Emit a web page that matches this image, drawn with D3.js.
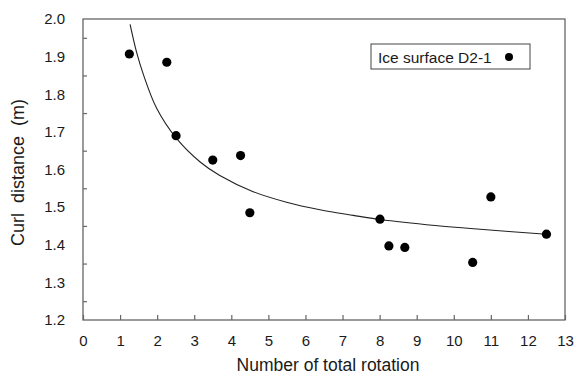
<!DOCTYPE html>
<html>
<head>
<meta charset="utf-8">
<script src="https://cdn.jsdelivr.net/npm/d3@7"></script>
<style>
  html, body { margin: 0; padding: 0; background: #fff; }
  svg { display: block; }
  text { font-family: "Liberation Sans", Arial, sans-serif; fill: #1a1a1a; }
</style>
</head>
<body>
<svg id="chart" width="575" height="376"></svg>
<script>
// Data
const rotations = [1.25, 2.26, 2.51, 3.50, 4.25, 4.50, 8.01, 8.25, 8.68, 10.51, 11.0, 12.5];
const curlDistance = [1.907, 1.885, 1.690, 1.625, 1.637, 1.485, 1.468, 1.397, 1.393, 1.353, 1.527, 1.428];

// Fitted trend curve
const trendX = [1.27, 1.45, 1.63, 1.99, 2.51, 3.16, 3.69, 4.59, 5.49, 6.39, 7.29, 8.01, 9.5, 10.71, 12.5];
const trendY = [1.986, 1.910, 1.852, 1.762, 1.684, 1.620, 1.584, 1.541, 1.513, 1.493, 1.478, 1.467, 1.451, 1.441, 1.428];

const xTicks = [0,1,2,3,4,5,6,7,8,9,10,11,12,13];
const yTickLabels = [1.2,1.3,1.4,1.5,1.6,1.7,1.8,1.9,2.0];
const yTickMarks = [1.25,1.35,1.45,1.55,1.65,1.75,1.85,1.95];

const seriesName = "Ice surface D2-1";
const xTitle = "Number of total rotation";
const yTitle = "Curl\u00a0\u00a0distance\u00a0\u00a0(m)";

const svg = d3.select("#chart");
const L = 83, T = 19, R = 565, B = 320;
const x = d3.scaleLinear().domain([0, 13]).range([L, R]);
const y = d3.scaleLinear().domain([1.2, 2.0]).range([B, T]);
const axisColor = "#666";
const fontFam = "'Liberation Sans', Arial, sans-serif";

// frame
svg.append("rect").attr("x", L).attr("y", T).attr("width", R - L).attr("height", B - T)
  .attr("fill", "none").attr("stroke", axisColor).attr("stroke-width", 1.3);

// x axis (ticks inward)
const xAxis = svg.append("g").attr("transform", `translate(0,${B})`)
  .call(d3.axisBottom(x).tickValues(xTicks).tickSize(-5).tickPadding(15).tickFormat(d3.format("d")));
xAxis.select(".domain").remove();
xAxis.selectAll("line").attr("stroke", axisColor).attr("stroke-width", 1.2);
xAxis.selectAll("text").attr("font-size", 15).attr("fill", "#1a1a1a").style("font-family", fontFam);

// y axis labels
const yAxis = svg.append("g").attr("transform", `translate(${L},0)`)
  .call(d3.axisLeft(y).tickValues(yTickLabels).tickSize(0).tickPadding(18).tickFormat(d3.format(".1f")));
yAxis.select(".domain").remove();
yAxis.selectAll("text").attr("font-size", 15).attr("fill", "#1a1a1a").style("font-family", fontFam);

// y tick marks (inward, between labels)
const yMarks = svg.append("g").attr("transform", `translate(${L},0)`)
  .call(d3.axisRight(y).tickValues(yTickMarks).tickSize(4).tickFormat(""));
yMarks.select(".domain").remove();
yMarks.selectAll("line").attr("stroke", axisColor).attr("stroke-width", 1.2);

// trend curve
const trend = trendX.map((v, i) => [v, trendY[i]]);
svg.append("path").datum(trend)
  .attr("fill", "none").attr("stroke", "#222").attr("stroke-width", 1.1)
  .attr("d", d3.line().x(d => x(d[0])).y(d => y(d[1])).curve(d3.curveCatmullRom.alpha(0.5)));

// points
svg.append("g").selectAll("circle").data(rotations.map((v, i) => [v, curlDistance[i]]))
  .join("circle").attr("cx", d => x(d[0])).attr("cy", d => y(d[1])).attr("r", 4.6).attr("fill", "#000");

// legend
const lg = svg.append("g");
lg.append("rect").attr("x", 371).attr("y", 44).attr("width", 159).attr("height", 25)
  .attr("fill", "#fff").attr("stroke", "#444").attr("stroke-width", 1);
lg.append("text").attr("x", 378).attr("y", 62.5).attr("font-size", 15.5).text(seriesName);
lg.append("circle").attr("cx", 509).attr("cy", 57).attr("r", 4).attr("fill", "#000");

// axis titles
svg.append("text").attr("x", (L + R) / 2 + 4).attr("y", 371).attr("text-anchor", "middle")
  .attr("font-size", 17.5).text(xTitle);
svg.append("text").attr("transform", `translate(24,${(T + B) / 2 + 3}) rotate(-90)`)
  .attr("text-anchor", "middle").attr("font-size", 18).text(yTitle);
</script>
</body>
</html>
